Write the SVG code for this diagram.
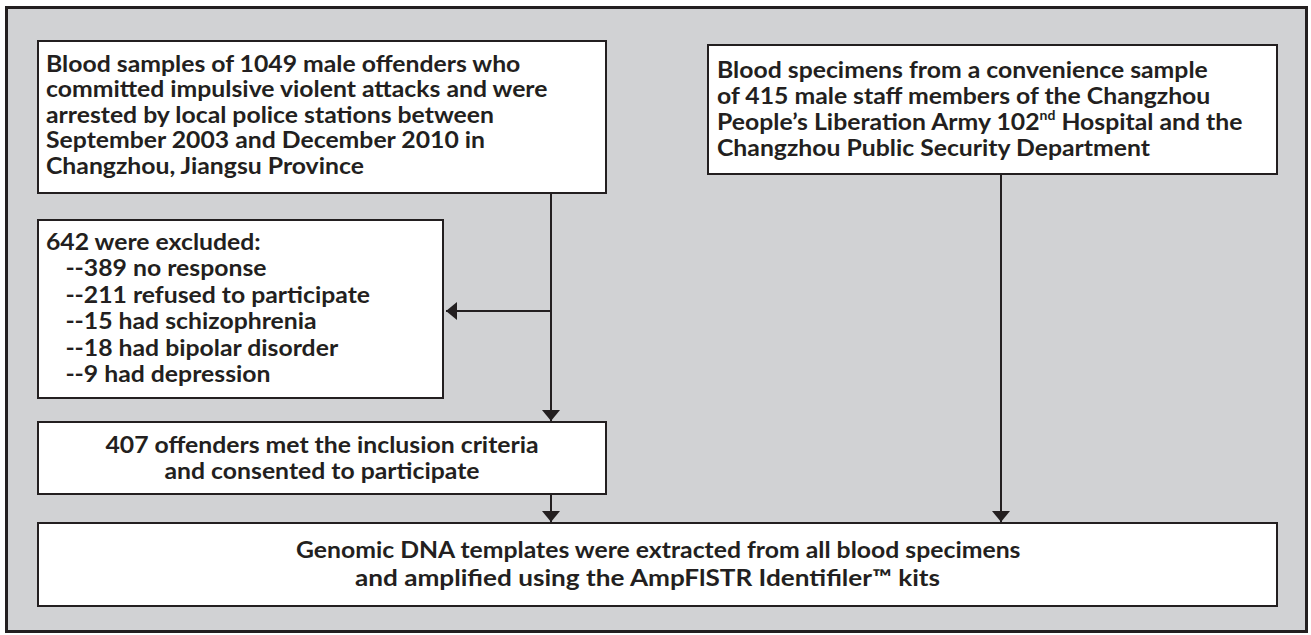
<svg xmlns="http://www.w3.org/2000/svg" width="1311" height="635" viewBox="0 0 1311 635">
<style>
.frame{fill:#d1d2d4;stroke:#231f20;stroke-width:3}
.box{fill:#ffffff;stroke:#231f20;stroke-width:2}
.t{font-family:Lato,"Open Sans","Liberation Sans",sans-serif;font-weight:bold;font-size:23px;fill:#231f20}
.c{text-anchor:middle}
.edge{stroke:#231f20;stroke-width:2;fill:none}
</style>
<defs>
<marker id="ah" markerWidth="12" markerHeight="18" refX="11" refY="9" orient="auto" markerUnits="userSpaceOnUse">
<path d="M0,0 L11,9 L0,18 Z" fill="#231f20"/>
</marker>
</defs>
<rect class="frame" x="6.5" y="7.5" width="1300" height="624"/>
<g id="node-offenders">
<rect class="box" x="38" y="41" width="568" height="152"/>
<g transform="matrix(1.077 0 0 1 -3.54 0)">
<text class="t" x="46" y="72">Blood samples of 1049 male offenders who</text>
<text class="t" x="46" y="97.5">committed impulsive violent attacks and were</text>
<text class="t" x="46" y="123">arrested by local police stations between</text>
<text class="t" x="46" y="148.5">September 2003 and December 2010 in</text>
<text class="t" x="46" y="174">Changzhou, Jiangsu Province</text>
</g>
</g>
<g id="node-staff">
<rect class="box" x="708" y="45" width="569" height="129"/>
<g transform="matrix(1.077 0 0 1 -55.21 0)">
<text class="t" x="717" y="78">Blood specimens from a convenience sample</text>
<text class="t" x="717" y="104">of 415 male staff members of the Changzhou</text>
<text class="t" x="717" y="130">People’s Liberation Army 102<tspan font-size="13" dy="-10">nd</tspan><tspan dy="10"> Hospital and the</tspan></text>
<text class="t" x="717" y="156">Changzhou Public Security Department</text>
</g>
</g>
<g id="node-excluded">
<rect class="box" x="38" y="220" width="405" height="178"/>
<g transform="matrix(1.077 0 0 1 -3.54 0)">
<text class="t" x="46" y="250">642 were excluded:</text>
<text class="t" x="64" y="276.5">--389 no response</text>
<text class="t" x="64" y="303">--211 refused to participate</text>
<text class="t" x="64" y="329.5">--15 had schizophrenia</text>
<text class="t" x="64" y="356">--18 had bipolar disorder</text>
<text class="t" x="64" y="382.5">--9 had depression</text>
</g>
</g>
<g id="node-included">
<rect class="box" x="38" y="422" width="568" height="72"/>
<g transform="matrix(1.077 0 0 1 -24.79 0)">
<text class="t c" x="322" y="453">407 offenders met the inclusion criteria</text>
<text class="t c" x="322" y="479">and consented to participate</text>
</g>
</g>
<g id="node-dna">
<rect class="box" x="38" y="523" width="1239" height="83"/>
<g transform="matrix(1.077 0 0 1 -50.44 0)">
<text class="t c" x="658" y="558">Genomic DNA templates were extracted from all blood specimens</text>
</g>
<text class="t" x="355" y="586" textLength="585" lengthAdjust="spacingAndGlyphs">and amplified using the AmpFlSTR Identifiler™ kits</text>
</g>
<g id="connectors">
<line class="edge" x1="551" y1="193" x2="551" y2="421" marker-end="url(#ah)"/>
<line class="edge" x1="551" y1="311" x2="446" y2="311" marker-end="url(#ah)"/>
<line class="edge" x1="551" y1="494" x2="551" y2="522" marker-end="url(#ah)"/>
<line class="edge" x1="1001" y1="174" x2="1001" y2="522" marker-end="url(#ah)"/>
</g>
</svg>
